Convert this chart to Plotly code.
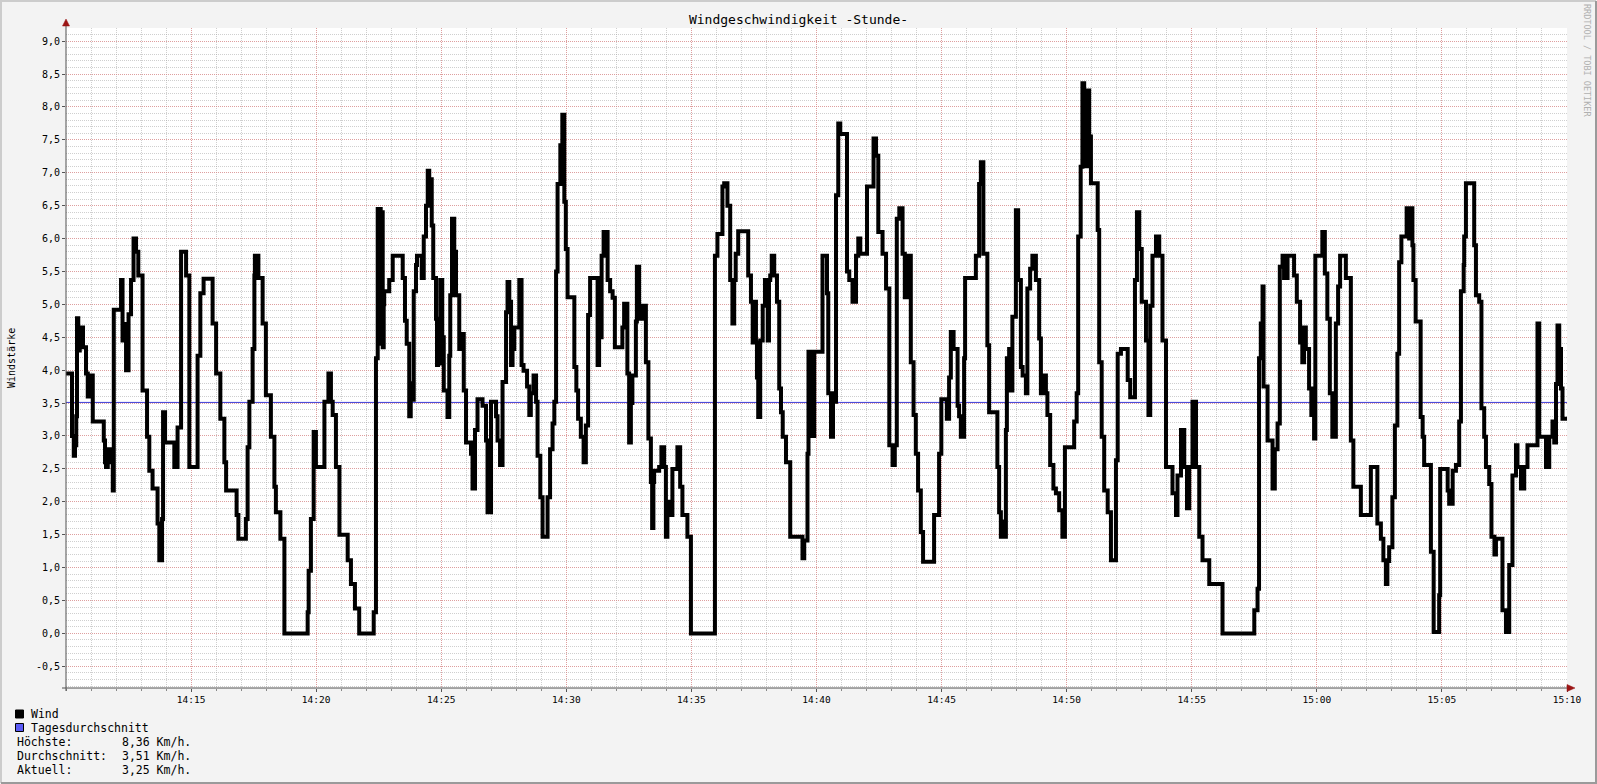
import pandas as pd
import plotly.graph_objects as go

# ---------------- data ----------------
title_text = "Windgeschwindigkeit -Stunde-"
y_title = "Windstärke"
watermark = "RRDTOOL / TOBI OETIKER"
start = pd.Timestamp("2013-06-15 14:10:00")
end = pd.Timestamp("2013-06-15 15:10:00")

# (minutes after 14:10, wind speed km/h) – step samples
wind_samples = [
    (0.00, 3.95), (0.24, 3.0), (0.31, 2.7), (0.36, 2.86), (0.41, 3.3), (0.44, 4.79), (0.49, 4.3),
    (0.55, 4.5), (0.63, 4.65), (0.68, 4.35), (0.80, 3.95), (0.87, 3.6), (0.93, 3.92), (1.07, 3.22),
    (1.51, 2.93), (1.56, 2.6), (1.60, 2.53), (1.67, 2.8), (1.73, 2.6), (1.80, 2.8), (1.87, 2.17),
    (1.91, 4.92), (2.20, 5.37), (2.26, 4.45), (2.33, 4.7), (2.40, 4.0), (2.50, 4.85), (2.60, 5.37),
    (2.70, 6.0), (2.80, 5.8), (2.89, 5.44), (3.06, 3.69), (3.24, 2.99), (3.33, 2.47), (3.46, 2.2),
    (3.66, 1.67), (3.73, 1.11), (3.84, 1.74), (3.88, 3.36), (3.96, 2.9), (4.33, 2.53), (4.46, 3.13),
    (4.60, 5.8), (4.80, 5.44), (4.93, 2.53), (5.26, 4.22), (5.37, 5.17), (5.50, 5.39), (5.86, 4.71),
    (6.00, 3.95), (6.17, 3.26), (6.33, 2.6), (6.40, 2.17),
    (6.82, 1.8), (6.89, 1.44), (7.19, 1.74), (7.26, 2.83), (7.33, 3.52), (7.46, 4.32), (7.53, 5.44),
    (7.55, 5.74), (7.69, 5.4), (7.86, 4.71), (7.99, 3.62), (8.19, 2.99), (8.33, 2.23), (8.39, 1.84),
    (8.57, 1.44), (8.73, 0.0), (9.66, 0.32), (9.70, 0.95), (9.79, 1.74), (9.90, 3.06), (9.99, 2.53),
    (10.33, 3.52), (10.49, 3.95), (10.59, 3.52), (10.66, 3.32), (10.79, 2.53), (10.93, 1.5),
    (11.26, 1.11), (11.39, 0.75), (11.55, 0.38), (11.72, 0.0), (12.30, 0.32), (12.39, 4.18),
    (12.46, 6.45), (12.50, 4.4), (12.54, 6.45), (12.58, 4.6), (12.62, 6.4), (12.66, 4.35),
    (12.70, 5.0), (12.72, 5.2), (12.92, 5.37), (13.06, 5.74), (13.46, 5.4),
    (13.55, 4.75), (13.62, 4.4), (13.72, 3.3), (13.78, 3.8), (13.83, 3.55), (13.90, 5.2), (13.99, 5.6),
    (14.03, 5.74), (14.22, 5.4), (14.30, 6.03), (14.39, 6.5), (14.46, 7.03), (14.52, 6.9), (14.62, 6.2),
    (14.68, 5.4), (14.79, 4.78), (14.83, 4.08), (14.87, 4.6), (14.91, 4.1), (14.96, 5.37), (15.04, 4.5),
    (15.10, 3.69), (15.25, 3.29), (15.32, 4.22), (15.36, 5.14), (15.43, 6.3), (15.52, 5.8),
    (15.59, 5.14), (15.72, 4.32), (15.83, 4.55), (15.90, 3.69), (15.99, 2.9), (16.19, 2.73),
    (16.25, 2.2), (16.35, 3.09), (16.45, 3.56), (16.65, 3.46), (16.79, 2.93), (16.85, 1.84),
    (16.99, 3.52), (17.19, 3.3), (17.25, 2.93), (17.35, 2.56), (17.45, 3.82), (17.59, 4.88),
    (17.65, 5.34), (17.72, 5.04), (17.79, 4.08), (17.85, 4.32), (17.92, 4.65), (18.12, 5.37),
    (18.21, 4.08), (18.29, 3.99), (18.43, 3.75), (18.52, 3.32), (18.58, 3.65), (18.69, 3.92),
    (18.79, 3.52), (18.85, 2.7), (18.96, 2.07), (19.05, 1.47), (19.25, 2.07), (19.35, 2.8),
    (19.45, 3.19), (19.52, 3.52), (19.59, 5.5), (19.65, 6.83), (19.76, 7.42), (19.84, 7.88),
    (19.92, 6.56), (19.98, 5.84), (20.05, 5.11), (20.32, 4.05), (20.40, 3.69),
    (20.47, 3.26), (20.58, 2.99), (20.69, 2.6), (20.78, 3.16), (20.87, 4.84), (20.95, 5.4),
    (21.25, 4.08), (21.31, 4.5), (21.41, 5.74), (21.49, 6.1), (21.65, 5.37), (21.75, 5.2),
    (21.85, 5.1), (21.94, 4.35), (22.24, 4.65), (22.31, 5.01), (22.44, 3.95), (22.51, 2.9),
    (22.58, 3.5), (22.64, 3.92), (22.78, 4.74), (22.82, 5.57), (22.91, 4.78), (23.04, 4.98),
    (23.18, 4.12), (23.28, 2.96), (23.38, 2.3), (23.43, 1.6), (23.48, 2.3), (23.51, 2.47),
    (23.71, 2.53), (23.80, 2.83), (23.91, 2.53), (23.98, 1.47), (24.04, 2.0), (24.11, 1.8),
    (24.24, 2.5), (24.44, 2.83), (24.55, 2.23), (24.64, 1.8), (24.84, 1.47), (24.98, 0.0),
    (25.94, 5.74), (26.04, 6.07), (26.24, 6.79), (26.31, 6.84), (26.44, 6.5), (26.55, 5.37),
    (26.64, 4.71), (26.71, 5.37), (26.77, 5.77), (26.87, 6.11),
    (27.27, 5.44), (27.38, 5.04), (27.45, 4.42), (27.51, 5.04), (27.58, 4.42), (27.62, 3.89),
    (27.67, 3.29), (27.75, 4.45), (27.85, 4.98), (27.94, 5.37), (28.05, 4.45), (28.10, 5.37),
    (28.15, 5.44), (28.21, 5.74), (28.31, 5.44), (28.42, 5.04), (28.51, 3.72), (28.58, 3.36),
    (28.65, 2.99), (28.78, 2.6), (28.95, 1.47), (29.44, 1.14), (29.51, 1.41), (29.64, 2.73),
    (29.68, 4.28), (29.74, 3.0), (29.80, 4.28), (29.86, 3.0), (29.91, 4.28), (30.24, 5.74),
    (30.42, 5.17), (30.47, 3.65), (30.58, 2.99), (30.66, 3.65), (30.71, 3.52), (30.78, 6.66),
    (30.87, 7.75), (30.95, 7.59), (31.22, 5.5), (31.31, 5.37), (31.44, 5.04), (31.58, 5.74),
    (31.67, 6.0), (31.75, 5.77), (32.02, 6.79), (32.28, 7.52), (32.38, 7.26), (32.47, 6.1),
    (32.64, 5.77), (32.78, 5.24), (32.91, 2.86), (33.04, 2.56), (33.13, 2.86), (33.21, 6.3),
    (33.31, 6.46), (33.44, 5.77), (33.53, 5.11), (33.64, 5.74),
    (33.77, 4.12), (33.88, 3.32), (33.97, 2.73), (34.06, 2.17), (34.17, 1.54), (34.26, 1.09),
    (34.70, 1.8), (34.90, 2.73), (34.99, 3.56), (35.21, 3.26), (35.30, 3.89), (35.37, 4.58),
    (35.48, 4.32), (35.64, 3.46), (35.70, 3.3), (35.77, 2.99), (35.90, 4.18), (35.94, 5.4),
    (36.37, 5.74), (36.50, 6.83), (36.57, 7.16), (36.67, 5.77), (36.83, 4.38), (36.90, 3.36),
    (37.23, 2.53), (37.30, 1.84), (37.37, 1.47), (37.43, 1.7), (37.48, 1.47), (37.57, 3.09),
    (37.61, 4.18), (37.70, 4.32), (37.77, 3.69), (37.83, 4.81), (37.97, 6.43), (38.06, 5.37),
    (38.17, 4.05), (38.24, 3.92), (38.37, 3.65), (38.43, 5.24), (38.54, 5.54), (38.63, 5.74),
    (38.77, 5.37), (38.90, 4.48), (38.97, 3.65), (39.07, 3.92), (39.17, 3.65), (39.23, 3.32),
    (39.34, 2.56), (39.47, 2.2), (39.57, 2.13), (39.70, 1.87), (39.83, 1.47), (39.93, 2.83),
    (40.30, 3.22), (40.40, 3.65), (40.46, 6.03), (40.56, 7.09), (40.63, 8.36), (40.70, 7.5),
    (40.74, 8.2), (40.79, 7.1), (40.83, 8.25), (40.90, 7.55),
    (40.97, 6.84), (41.24, 6.13), (41.30, 4.12), (41.40, 2.99), (41.50, 2.17), (41.64, 1.84),
    (41.77, 1.11), (41.97, 2.63), (42.04, 4.25), (42.17, 4.32), (42.44, 3.85), (42.54, 3.59),
    (42.73, 5.37), (42.81, 6.4), (42.90, 5.84), (43.00, 5.04), (43.17, 4.45), (43.27, 3.32),
    (43.34, 4.98), (43.43, 5.74), (43.57, 6.03), (43.70, 5.74), (43.83, 4.45), (43.97, 2.53),
    (44.23, 2.13), (44.37, 1.8), (44.43, 2.4), (44.57, 3.09), (44.70, 2.53), (44.81, 1.9),
    (44.90, 2.53), (45.03, 3.52), (45.17, 2.53), (45.30, 1.47), (45.43, 1.11), (45.70, 0.75),
    (46.23, 0.0), (47.50, 0.35), (47.63, 0.68),
    (47.69, 4.18), (47.76, 4.71), (47.83, 5.27), (47.87, 3.75), (48.03, 2.93), (48.23, 2.2),
    (48.32, 2.8), (48.43, 3.19), (48.52, 5.57), (48.63, 5.74), (48.69, 5.4), (48.83, 5.74),
    (49.09, 5.44), (49.20, 5.04), (49.33, 4.42), (49.42, 4.12), (49.49, 4.65), (49.56, 4.32),
    (49.69, 3.72), (49.78, 3.32), (49.89, 2.96), (49.94, 5.74), (50.22, 6.1), (50.32, 5.47),
    (50.42, 4.78), (50.52, 3.65), (50.62, 2.99), (50.76, 4.71), (50.85, 5.27), (50.93, 5.74),
    (51.16, 5.4), (51.36, 2.93), (51.46, 2.23), (51.76, 1.8), (52.16, 2.53), (52.42, 1.67),
    (52.56, 1.44), (52.66, 1.11), (52.76, 0.75), (52.82, 1.1), (52.89, 1.31), (53.02, 2.07),
    (53.12, 3.16), (53.22, 4.25), (53.29, 5.64), (53.38, 6.03), (53.59, 6.46), (53.69, 6.0),
    (53.75, 6.46), (53.82, 5.9), (53.86, 5.37), (53.95, 4.74), (54.15, 3.29),
    (54.23, 2.99), (54.29, 2.56), (54.56, 1.24), (54.67, 0.02), (54.89, 0.58), (54.93, 2.5),
    (55.23, 2.17), (55.29, 1.97), (55.43, 2.47), (55.56, 2.56), (55.69, 3.22), (55.76, 5.2),
    (55.87, 5.6), (55.89, 6.03), (55.96, 6.84), (56.29, 5.9), (56.36, 5.14), (56.49, 5.04),
    (56.58, 3.42), (56.69, 2.99), (56.76, 2.53), (56.89, 2.27), (56.98, 1.47), (57.10, 1.2),
    (57.16, 1.44), (57.42, 0.35), (57.56, 0.02), (57.69, 1.04), (57.82, 2.4), (57.96, 2.86),
    (58.02, 2.53), (58.16, 2.2), (58.29, 2.53), (58.42, 2.86), (58.82, 4.71), (58.89, 2.99),
    (59.16, 2.53), (59.29, 2.99), (59.42, 3.22), (59.49, 2.9), (59.56, 3.79), (59.62, 4.68),
    (59.69, 4.32), (59.76, 3.72), (59.82, 3.26), (60.00, 3.26),
]
wind_minutes = [m for m, _ in wind_samples]
wind_values = [v for _, v in wind_samples]

average_value = 3.51
x_tick_minutes = [5, 10, 15, 20, 25, 30, 35, 40, 45, 50, 55, 60]
y_ticks = [-0.5, 0.0, 0.5, 1.0, 1.5, 2.0, 2.5, 3.0, 3.5, 4.0, 4.5, 5.0, 5.5, 6.0, 6.5, 7.0, 7.5, 8.0, 8.5, 9.0]
y_tick_labels = [f"{v:.1f}".replace(".", ",") for v in y_ticks]
series_names = ["Wind", "Tagesdurchschnitt"]
series_colors = ["#000000", "#5a5af5"]
stat_labels = ["Höchste:", "Durchschnitt:", "Aktuell:"]
stat_values = ["8,36 Km/h.", "3,51 Km/h.", "3,25 Km/h."]

# ---------------- layout geometry (pixels) ----------------
W, H = 1597, 784
L, R, T, B = 66, 30, 28, 96
PW, PH = W - L - R, H - T - B


def px(x):
    return (x - L) / PW


def py(y):
    return (H - B - y) / PH


FONT = "DejaVu Sans Mono"
times = [start + pd.Timedelta(minutes=m) for m in wind_minutes]
x_tick_vals = [start + pd.Timedelta(minutes=m) for m in x_tick_minutes]
x_tick_text = [t.strftime("%H:%M") for t in x_tick_vals]

fig = go.Figure()
fig.add_trace(go.Scatter(x=[start, end], y=[average_value, average_value], mode="lines",
                         name=series_names[1], line=dict(color="#3c3cd6", width=1),
                         hoverinfo="skip"))
fig.add_trace(go.Scatter(x=times, y=wind_values, mode="lines", name=series_names[0],
                         line=dict(color="#000000", width=4, shape="hv")))

red_grid = "rgba(235,120,120,0.55)"
gray_grid = "rgba(160,160,160,0.5)"

fig.update_layout(
    width=W, height=H,
    margin=dict(l=L, r=R, t=T, b=B),
    paper_bgcolor="#f3f3f3",
    plot_bgcolor="#ffffff",
    showlegend=False,
    font=dict(family=FONT, size=10, color="#000000"),
    title=dict(text=title_text, x=0.5, xref="container", y=1 - 19.5 / H, yref="container",
               xanchor="center", yanchor="middle", font=dict(family=FONT, size=13, color="#000")),
    xaxis=dict(
        type="date", range=[start, end],
        tickmode="array", tickvals=x_tick_vals, ticktext=x_tick_text,
        showgrid=True, gridcolor=red_grid, griddash="1px,1px", gridwidth=1,
        ticks="outside", ticklen=3, tickcolor="#555555", zeroline=False, showline=False,
        tickfont=dict(family=FONT, size=9.5, color="#000"),
        minor=dict(tickmode="linear", dtick=60000, tick0=start, showgrid=True, gridcolor=gray_grid,
                   griddash="1px,1px", ticks="outside", ticklen=2, tickcolor="#888888"),
    ),
    yaxis=dict(
        range=[-0.83, 9.2],
        tickmode="array", tickvals=y_ticks, ticktext=y_tick_labels,
        showgrid=True, gridcolor=red_grid, griddash="1px,1px", gridwidth=1,
        ticks="outside", ticklen=3, tickcolor="#555555", zeroline=False, showline=False,
        tickfont=dict(family=FONT, size=10, color="#000"),
        minor=dict(tickmode="linear", dtick=0.1, tick0=0, showgrid=True, gridcolor=gray_grid,
                   griddash="1px,1px"),
    ),
)

shapes = []
# axes lines
shapes.append(dict(type="line", xref="paper", yref="paper", x0=px(66), x1=px(66), y0=py(691), y1=py(24),
                   line=dict(color="#505050", width=1)))
shapes.append(dict(type="line", xref="paper", yref="paper", x0=px(62), x1=px(1568), y0=py(688), y1=py(688),
                   line=dict(color="#505050", width=1)))
# arrow heads
shapes.append(dict(type="path", xref="paper", yref="paper",
                   path=f"M {px(66)},{py(19)} L {px(62.5)},{py(26)} L {px(69.5)},{py(26)} Z",
                   fillcolor="#9b1515", line=dict(color="#9b1515", width=0.5)))
shapes.append(dict(type="path", xref="paper", yref="paper",
                   path=f"M {px(1575)},{py(688)} L {px(1567)},{py(684.5)} L {px(1567)},{py(691.5)} Z",
                   fillcolor="#9b1515", line=dict(color="#9b1515", width=0.5)))
# outer frame
shapes.append(dict(type="path", xref="paper", yref="paper",
                   path=f"M {px(1)},{py(783)} L {px(1)},{py(1)} L {px(1596)},{py(1)}",
                   line=dict(color="#cccccc", width=2)))
shapes.append(dict(type="path", xref="paper", yref="paper",
                   path=f"M {px(1)},{py(783)} L {px(1596)},{py(783)} L {px(1596)},{py(1)}",
                   line=dict(color="#9a9a9a", width=2)))
# legend swatches
for i, col in enumerate(series_colors):
    yc = 714 + i * 13.5
    shapes.append(dict(type="rect", xref="paper", yref="paper",
                       x0=px(15.5), x1=px(23.5), y0=py(yc - 4), y1=py(yc + 4),
                       fillcolor=col, line=dict(color="#000000", width=1)))
fig.update_layout(shapes=shapes)

ann = []
for i, name in enumerate(series_names):
    ann.append(dict(text=name, x=px(29), y=py(714 + i * 13.5), xref="paper", yref="paper",
                    xanchor="left", yanchor="middle", showarrow=False,
                    font=dict(family=FONT, size=11.5, color="#000")))
for i, (lab, val) in enumerate(zip(stat_labels, stat_values)):
    yc = 741.7 + i * 14.1
    ann.append(dict(text=lab, x=px(15), y=py(yc), xref="paper", yref="paper",
                    xanchor="left", yanchor="middle", showarrow=False,
                    font=dict(family=FONT, size=11.5, color="#000")))
    ann.append(dict(text=val, x=px(119.5), y=py(yc), xref="paper", yref="paper",
                    xanchor="left", yanchor="middle", showarrow=False,
                    font=dict(family=FONT, size=11.5, color="#000")))
ann.append(dict(text=y_title, x=px(11), y=py(358), xref="paper", yref="paper", textangle=-90,
                xanchor="center", yanchor="middle", showarrow=False,
                font=dict(family=FONT, size=10, color="#000")))
ann.append(dict(text=watermark, x=px(1587), y=py(60), xref="paper", yref="paper", textangle=90,
                xanchor="center", yanchor="middle", showarrow=False,
                font=dict(family=FONT, size=8.5, color="#b0b0b0")))
fig.update_layout(annotations=ann)

fig.write_html("out.html", config={"displayModeBar": False},
               post_script="document.body.style.margin='0px';")
